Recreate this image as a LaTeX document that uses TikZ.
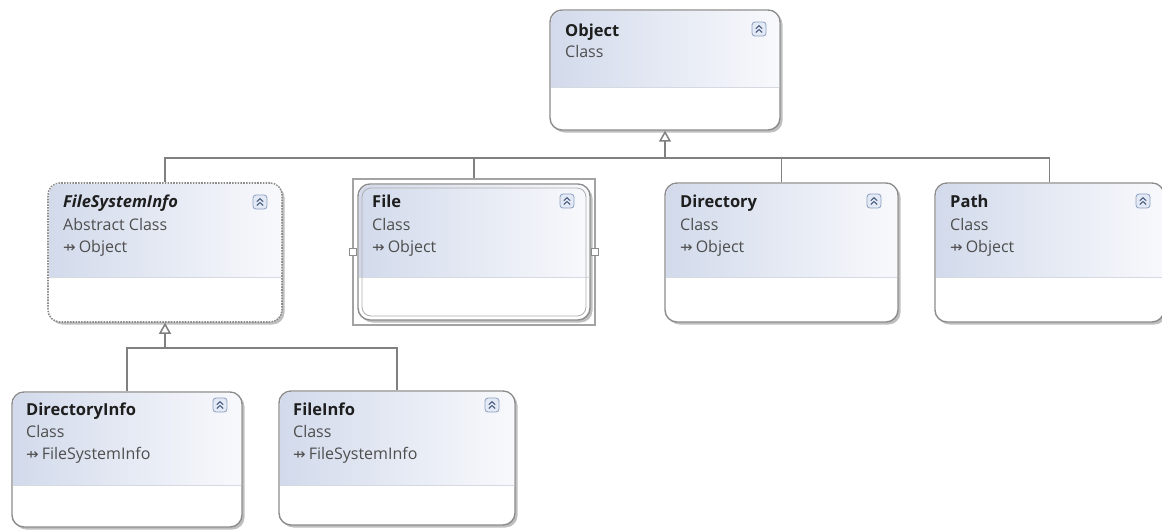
\documentclass[tikz,border=0pt]{standalone}
\usepackage{fontspec}
\setmainfont{Open Sans}
\newfontfamily\symfont{DejaVu Sans}
\usetikzlibrary{arrows.meta,shadows}
\definecolor{boxborder}{HTML}{8C8C8C}
\definecolor{hdrL}{HTML}{D2DAEB}
\definecolor{hdrR}{HTML}{F8F9FC}
\definecolor{divc}{HTML}{D5D9E2}
\definecolor{titlec}{HTML}{1E1E1E}
\definecolor{subc}{HTML}{4E4E4E}
\definecolor{connc}{HTML}{808080}
\definecolor{iconbg}{HTML}{E3EAF6}
\definecolor{iconbd}{HTML}{8DA0C0}
\definecolor{iconfg}{HTML}{44587A}
\tikzset{
  cls/.style={draw=boxborder, line width=1.4pt, rounded corners=12pt, fill=white, inner sep=0pt,
    drop shadow={shadow xshift=2.5pt, shadow yshift=-2.5pt, fill=black, opacity=0.25}},
  dashcls/.style={dash pattern=on 1.6pt off 1.2pt, line width=1.6pt},
  divline/.style={draw=divc, line width=0.8pt},
  ttl/.style={anchor=base west, inner sep=0pt, text=titlec, font=\fontsize{16.5}{19}\selectfont\bfseries},
  sub/.style={anchor=base west, inner sep=0pt, text=subc, font=\fontsize{16}{18}\selectfont},
  iconbox/.style={draw=iconbd, fill=iconbg, line width=0.8pt, rounded corners=3pt, minimum size=14pt, inner sep=0pt},
  chev/.style={draw=iconfg, line width=1pt},
  conn/.style={draw=connc, line width=1.5pt},
  inh/.style={conn, -{Triangle[open, length=11pt, width=12pt, fill=white]}},
  handle/.style={draw=boxborder, fill=white, line width=0.8pt, minimum size=7pt, inner sep=0pt},
  frame/.style={draw=boxborder!80, line width=1.8pt, inner sep=0pt},
}
% #1 extra style, #2 name, #3 x1, #4 y1, #5 x2, #6 y2, #7 divider y
\newcommand\classbox[7][]{%
  \pgfmathsetmacro\cx{(#3+#5)/2}\pgfmathsetmacro\cy{(#4+#6)/2}%
  \pgfmathsetmacro\cw{#5-#3}\pgfmathsetmacro\ch{#6-#4}%
  \node[cls,#1,minimum width=\cw pt,minimum height=\ch pt] (#2) at (\cx,\cy) {};
  \begin{scope}
    \clip[rounded corners=11pt] (#3+1,#4+1) rectangle (#5-1,#6-1);
    \shade[left color=hdrL,right color=hdrR] (#3,#4) rectangle (#5,#7);
  \end{scope}
  \draw[divline] (#3+1,#7) -- (#5-1,#7);
}
% #1 name, #2 x, #3 y
\newcommand\collapseicon[3]{%
  \node[iconbox] (#1) at (#2,#3) {};
  \draw[chev] ([shift={(-3.2,-0.3)}]#1.center) -- ++(3.2,-3) -- ++(3.2,3);
  \draw[chev] ([shift={(-3.2,3.5)}]#1.center) -- ++(3.2,-3) -- ++(3.2,3);
}
\newcommand\inhsym{{\symfont\fontsize{15}{15}\selectfont ⇸}\hspace{3pt}}
\begin{document}
\begin{tikzpicture}[x=1pt,y=-1pt]
\fill[white] (0,0) rectangle (1162,531);
\useasboundingbox (0,0) rectangle (1162,531);

% ---- Object
\classbox{obj}{550}{10}{780}{130}{87}
\collapseicon{objI}{759}{29}
\node[ttl] (objA) at (565,36) {Object};
\node[sub] (objB) at (565,57) {Class};

% ---- FileSystemInfo (abstract)
\classbox[dashcls]{fsi}{48}{183}{282}{322}{277}
\collapseicon{fsiI}{260}{202}
\node[ttl, font=\fontsize{16.5}{19}\selectfont\bfseries\itshape] (fsiA) at (63,207) {FileSystemInfo};
\node[sub] (fsiB) at (63,230) {Abstract Class};
\node[sub] (fsiC) at (63,252) {\inhsym Object};

% ---- File (selected)
\node[frame, minimum width=242pt, minimum height=146pt] (fileF) at (474,252) {};
\classbox{file}{358}{184}{590}{320}{277}
\draw[draw=boxborder!70, line width=0.8pt, rounded corners=9pt] (362,188) rectangle (586,316);
\node[handle] (hL) at (353,252) {};
\node[handle] (hR) at (595,252) {};
\collapseicon{fileI}{567}{201}
\node[ttl] (fileA) at (372,207) {File};
\node[sub] (fileB) at (372,230) {Class};
\node[sub] (fileC) at (372,252) {\inhsym Object};

% ---- Directory
\classbox{dir}{665}{183}{898}{322}{277}
\collapseicon{dirI}{874}{201}
\node[ttl] (dirA) at (680,207) {Directory};
\node[sub] (dirB) at (680,230) {Class};
\node[sub] (dirC) at (680,252) {\inhsym Object};

% ---- Path
\classbox{path}{935}{183}{1164}{322}{277}
\collapseicon{pathI}{1143}{201}
\node[ttl] (pathA) at (950,207) {Path};
\node[sub] (pathB) at (950,230) {Class};
\node[sub] (pathC) at (950,252) {\inhsym Object};

% ---- DirectoryInfo
\classbox{dinfo}{12}{392}{242}{527}{485}
\collapseicon{dinfoI}{220}{405}
\node[ttl] (dinfoA) at (26,415) {DirectoryInfo};
\node[sub] (dinfoB) at (26,437) {Class};
\node[sub] (dinfoC) at (26,459) {\inhsym FileSystemInfo};

% ---- FileInfo
\classbox{finfo}{279}{391}{515}{525}{485}
\collapseicon{finfoI}{492}{405}
\node[ttl] (finfoA) at (293,415) {FileInfo};
\node[sub] (finfoB) at (293,437) {Class};
\node[sub] (finfoC) at (293,459) {\inhsym FileSystemInfo};

% ---- connectors
\coordinate (bus1) at (665,158);
\draw[conn] (fsi.north) |- (bus1);
\draw[conn] (fileF.north) |- (bus1);
\draw[conn] (dir.north) |- (bus1);
\draw[conn] (path.north) |- (bus1);
\draw[inh] (bus1) -- (obj.south);

\coordinate (bus2) at (165,348);
\draw[conn] (dinfo.north) |- (bus2);
\draw[conn] (finfo.north) |- (bus2);
\draw[inh] (bus2) -- (fsi.south);
\end{tikzpicture}
\end{document}
